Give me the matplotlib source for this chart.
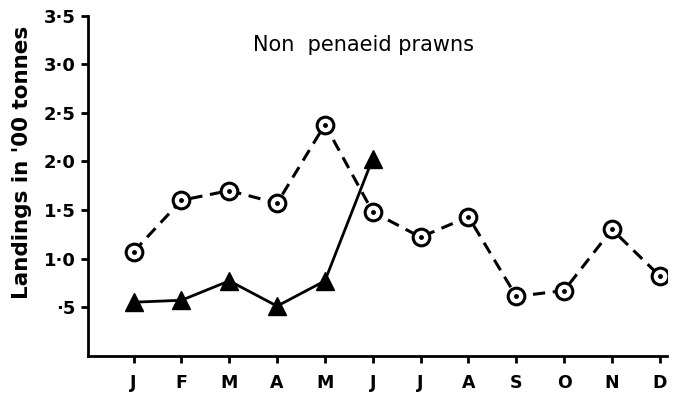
import matplotlib
matplotlib.use("Agg")
import matplotlib.pyplot as plt

months = ["J", "F", "M", "A", "M", "J", "J", "A", "S", "O", "N", "D"]
circle_vals = [1.07, 1.60, 1.70, 1.57, 2.38, 1.48, 1.22, 1.43, 0.61, 0.67, 1.30, 0.82]
tri_vals = [0.55, 0.57, 0.77, 0.51, 0.77, 2.03]
ytick_vals = [0.5, 1.0, 1.5, 2.0, 2.5, 3.0, 3.5]
ytick_labels = ["·5", "1·0", "1·5", "2·0", "2·5", "3·0", "3·5"]

plt.rcParams['font.family'] = ['DejaVu Sans']

fig = plt.figure(figsize=(6.73, 3.96), dpi=100)
ax = fig.add_axes([0.131, 0.102, 0.86, 0.858])

x = list(range(len(months)))
xt = x[:len(tri_vals)]

# circles, dashed
ax.plot(x, circle_vals, color="black", lw=2.2, ls=(0, (4, 2.5)), zorder=2)
ax.plot(x, circle_vals, ls="none", marker="o", ms=12, mfc="white", mec="black",
        mew=2.2, zorder=3)
ax.plot(x, circle_vals, ls="none", marker="o", ms=2.5, color="black", zorder=4)

# triangles, solid
ax.plot(xt, tri_vals, color="black", lw=2, zorder=5)
ax.plot(xt, tri_vals, ls="none", marker="^", ms=13, color="black", zorder=6)

ax.set_xlim(-0.95, 11.15)
ax.set_ylim(0, 3.5)
ax.set_xticks(x)
ax.set_xticklabels(months, fontsize=12.5, fontweight="bold")
ax.set_yticks(ytick_vals)
ax.set_yticklabels(ytick_labels, fontsize=13, fontweight="bold")

for s in ["top", "right"]:
    ax.spines[s].set_visible(False)
for s in ["left", "bottom"]:
    ax.spines[s].set_linewidth(2)
ax.tick_params(axis="both", width=2, length=5, direction="out")
ax.tick_params(axis="x", pad=8)
ax.tick_params(axis="y", pad=4)

ax.set_ylabel("Landings in '00 tonnes", fontsize=15.5, fontweight="bold")
ax.yaxis.set_label_coords(-0.097, 0.57)
ax.text(4.8, 3.2, "Non  penaeid prawns", fontsize=15, ha="center", va="center")

fig.savefig("out.png", dpi=100)
